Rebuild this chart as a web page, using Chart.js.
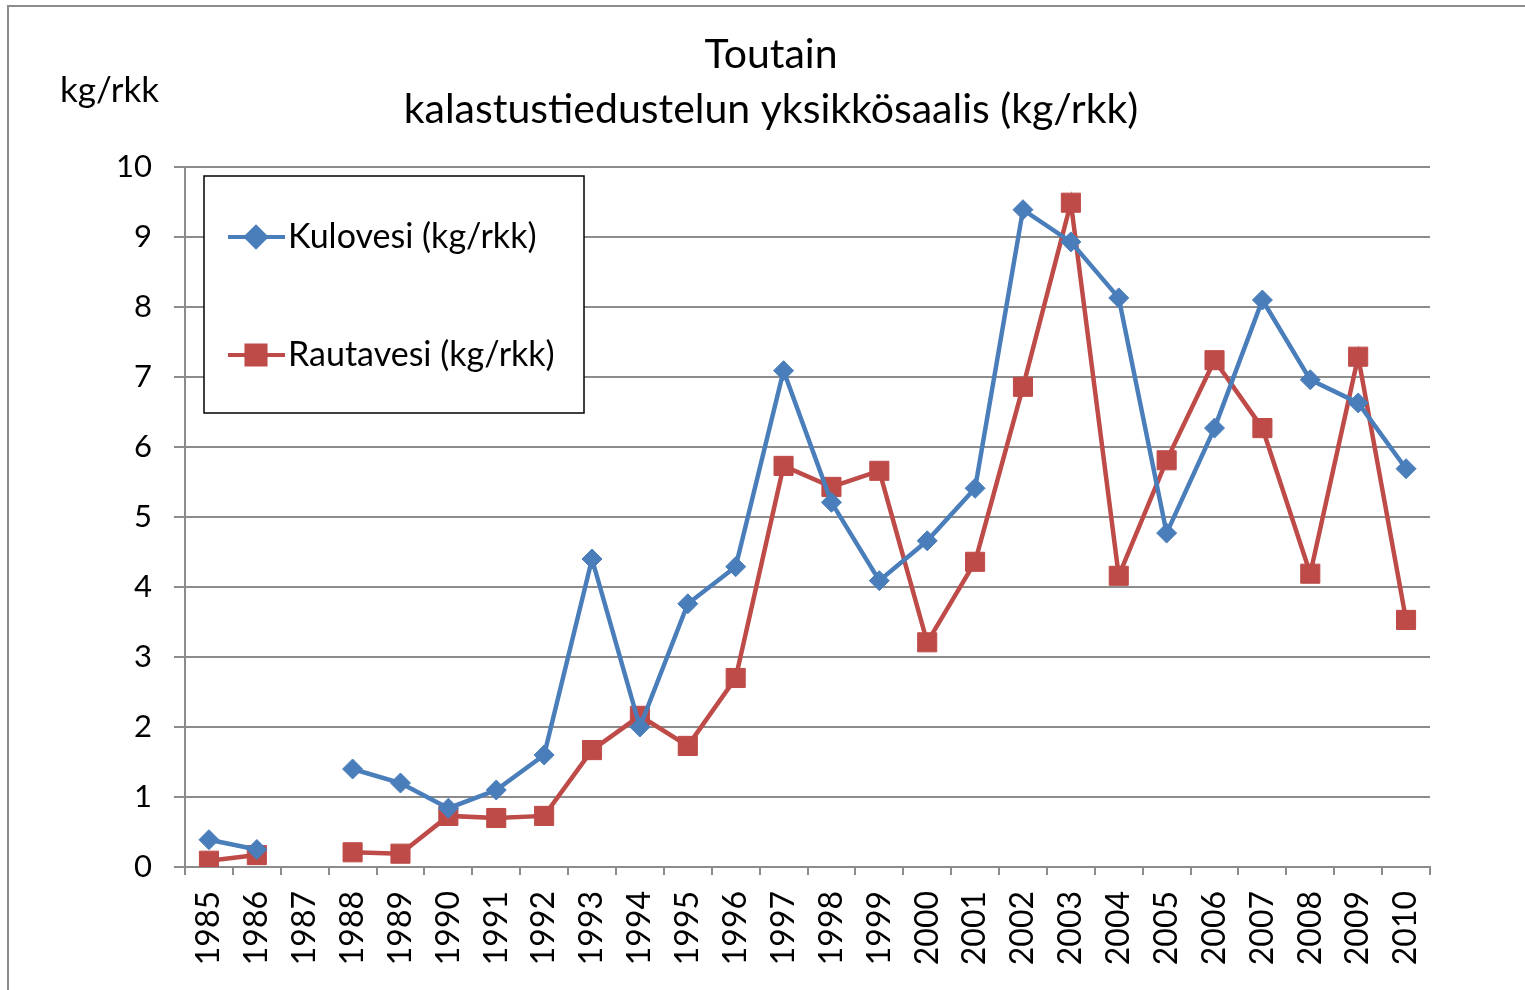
<!DOCTYPE html>
<html>
<head>
<meta charset="utf-8">
<script src="https://cdn.jsdelivr.net/npm/chart.js@4/dist/chart.umd.min.js"></script>
<style>
  html, body { margin: 0; padding: 0; background: #fff; }
  #wrap { width: 1525px; height: 990px; }
</style>
</head>
<body>
<div id="wrap"><canvas id="grafico-toutain" width="1525" height="990"></canvas></div>
<script>
// Toutain - kalastustiedustelun yksikkösaalis
var vuodet = ["1985", "1986", "1987", "1988", "1989", "1990", "1991", "1992", "1993",
  "1994", "1995", "1996", "1997", "1998", "1999", "2000", "2001", "2002", "2003",
  "2004", "2005", "2006", "2007", "2008", "2009", "2010"];

var kulovesi = [0.39, 0.25, null, 1.40, 1.20, 0.84, 1.10, 1.60, 4.40,
  2.00, 3.76, 4.29, 7.09, 5.21, 4.09, 4.66, 5.41, 9.39, 8.93,
  8.13, 4.77, 6.27, 8.10, 6.96, 6.63, 5.69];

var rautavesi = [0.09, 0.17, null, 0.21, 0.19, 0.73, 0.70, 0.73, 1.67,
  2.16, 1.73, 2.70, 5.73, 5.43, 5.66, 3.21, 4.36, 6.86, 9.49,
  4.16, 5.81, 7.24, 6.27, 4.19, 7.29, 3.53];

var yTicks = [0, 1, 2, 3, 4, 5, 6, 7, 8, 9, 10];

var fontti = "Lato, 'Open Sans', sans-serif";

// otsikko, yksikkö, reunus ja selite
const koristeet = {
  id: "koristeet",
  afterDraw(chart) {
    const c = chart.ctx;
    c.save();
    // ulkoreunus
    c.strokeStyle = "#8c8c8c";
    c.lineWidth = 2;
    c.strokeRect(8, 6, 1600, 1100);

    c.fillStyle = "#000";
    c.textAlign = "center";
    c.textBaseline = "middle";
    c.font = "41px " + fontti;
    c.fillText("Toutain", 771, 55);
    c.fillText("kalastustiedustelun yksikkösaalis (kg/rkk)", 771, 110);

    c.font = "35px " + fontti;
    c.textAlign = "left";
    c.fillText("kg/rkk", 60, 91);

    // selite
    c.fillStyle = "#fff";
    c.fillRect(204, 176, 380, 237);
    c.strokeStyle = "#000";
    c.lineWidth = 1.5;
    c.strokeRect(204, 176, 380, 237);
    const rivit = [237, 355];
    chart.data.datasets.forEach(function (ds, i) {
      const y = rivit[i];
      c.strokeStyle = ds.borderColor;
      c.lineWidth = 4;
      c.beginPath();
      c.moveTo(228, y);
      c.lineTo(285, y);
      c.stroke();
      Chart.helpers.drawPoint(c, {
        pointStyle: ds.pointStyle,
        radius: ds.pointRadius,
        borderWidth: 1
      }, 256, y);
      c.fillStyle = ds.backgroundColor;
      c.fill();
      c.fillStyle = "#000";
      c.font = "34px " + fontti;
      c.textAlign = "left";
      c.fillText(ds.label, 288, y);
    });
    c.restore();
  }
};

var ctx = document.getElementById("grafico-toutain").getContext("2d");

var graficoToutain = new Chart(ctx, {
  type: "line",
  data: {
    labels: vuodet,
    datasets: [
      {
        label: "Kulovesi (kg/rkk)",
        data: kulovesi,
        borderColor: "#4a7ebb",
        backgroundColor: "#4a7ebb",
        borderWidth: 4.5,
        pointStyle: "rectRot",
        pointRadius: 10,
        pointBorderWidth: 1,
        spanGaps: false,
        tension: 0,
      },
      {
        label: "Rautavesi (kg/rkk)",
        data: rautavesi,
        borderColor: "#be4b48",
        backgroundColor: "#be4b48",
        borderWidth: 4.5,
        pointStyle: "rect",
        pointRadius: 13.5,
        pointBorderWidth: 1,
        spanGaps: false,
        tension: 0,
      },
    ],
  },
  options: {
    responsive: false,
    animation: false,
    layout: { padding: { top: 167, right: 95, left: 0, bottom: 0 } },
    plugins: {
      legend: { display: false },
      title: { display: false },
      tooltip: { enabled: false },
    },
    scales: {
      x: {
        offset: true,
        afterFit(scale) { scale.height = 123; },
        grid: {
          display: true,
          drawOnChartArea: false,
          offset: true,
          color: "#8c8c8c",
          lineWidth: 2,
          tickLength: 8,
        },
        border: { color: "#8c8c8c", width: 2 },
        ticks: {
          autoSkip: false,
          maxRotation: 90,
          minRotation: 90,
          padding: 16,
          color: "#000",
          font: { family: fontti, size: 32 },
        },
      },
      y: {
        min: 0,
        max: 10,
        afterFit(scale) { scale.width = 185; },
        afterBuildTicks(scale) {
          scale.ticks = yTicks.map(function (v) { return { value: v }; });
        },
        grid: {
          color: "#8c8c8c",
          lineWidth: 2,
          tickLength: 11,
        },
        border: { color: "#8c8c8c", width: 2 },
        ticks: {
          padding: 22,
          color: "#000",
          font: { family: fontti, size: 31 },
        },
      },
    },
  },
  plugins: [koristeet],
});
</script>
</body>
</html>
